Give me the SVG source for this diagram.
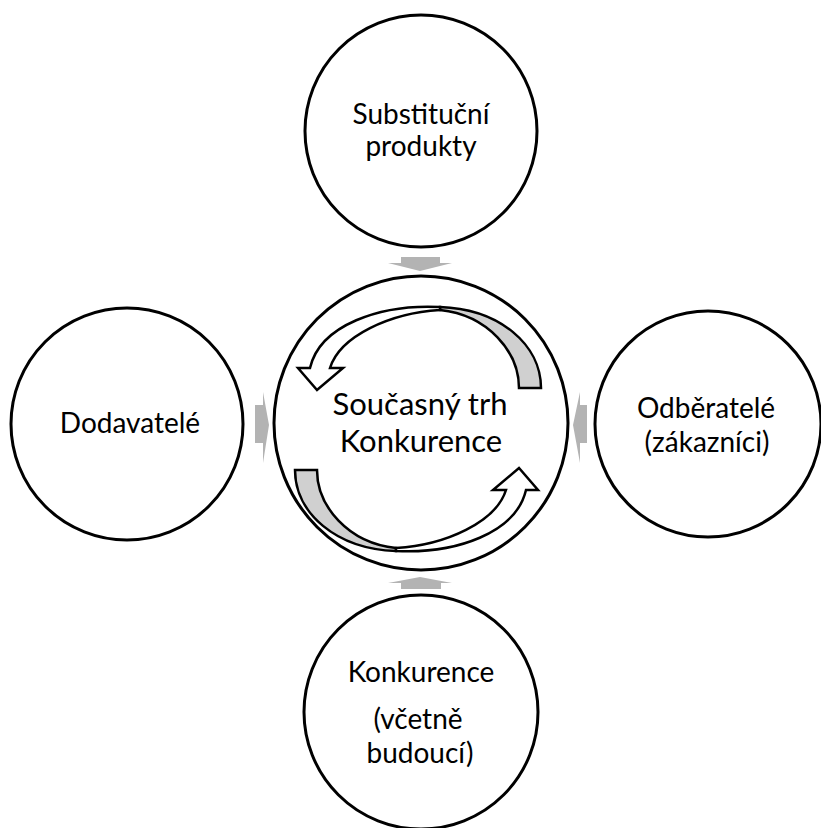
<svg xmlns="http://www.w3.org/2000/svg" width="821" height="828" viewBox="0 0 821 828">
<style>
.c{fill:#fff;stroke:#000;stroke-width:3}
.t{font-family:Lato,"Liberation Sans",sans-serif;font-size:28px;fill:#000;text-anchor:middle}
.tc{font-size:31px}
.ga{fill:#b3b3b3;stroke:none}
.wa{fill:#fff;stroke:#000;stroke-width:2.5;stroke-linejoin:miter}
.gy{fill:#d0d0d0;stroke:#000;stroke-width:2.5}
</style>
<rect width="821" height="828" fill="#fff"/>
<g id="node-top">
<circle class="c" cx="421" cy="131" r="116"/>
<text class="t" x="421" y="124">Substituční</text>
<text class="t" x="421" y="156">produkty</text>
</g>
<g id="node-left">
<circle class="c" cx="127" cy="424" r="116"/>
<text class="t" x="130" y="433">Dodavatelé</text>
</g>
<g id="node-right">
<circle class="c" cx="708" cy="424" r="113"/>
<text class="t" x="706" y="418">Odběratelé</text>
<text class="t" x="707" y="452">(zákazníci)</text>
</g>
<g id="node-bottom">
<circle class="c" cx="421" cy="712" r="117"/>
<text class="t" x="421" y="682">Konkurence</text>
<text class="t" x="418" y="729">(včetně</text>
<text class="t" x="420" y="763">budoucí)</text>
</g>
<g id="connectors">
<path class="ga" d="M401 257 H440 V263 H452 L420 271 L388 263 H401 Z"/>
<path class="ga" d="M401 589 H441 V583 H452 L420 577 L388 583 H401 Z"/>
<path class="ga" d="M255 405 V443 H263 V463 L269 425 L263 392 V405 Z"/>
<path class="ga" d="M587 405 V443 H580 V463 L573 425 L580 392 V405 Z"/>
</g>
<g id="node-center">
<circle class="c" cx="421" cy="423" r="147"/>
<g id="arrow-top">
<path class="gy" d="M440 307 C500 309 541 345 541 388 L519 388 C519 352 488 315 440 310 Z"/>
<path class="wa" d="M440 307 C380 304 320 325 310 368 L298 368 L317 390 L343 368 L330 368 C340 336 390 313 440 310 Z"/>
</g>
<g id="arrow-bottom" transform="rotate(180 418 429)">
<path class="gy" d="M440 307 C500 309 541 345 541 388 L519 388 C519 352 488 315 440 310 Z"/>
<path class="wa" d="M440 307 C380 304 320 325 310 368 L298 368 L317 390 L343 368 L330 368 C340 336 390 313 440 310 Z"/>
</g>
<text class="t tc" x="420" y="415">Současný trh</text>
<text class="t tc" x="421" y="452">Konkurence</text>
</g>
</svg>
